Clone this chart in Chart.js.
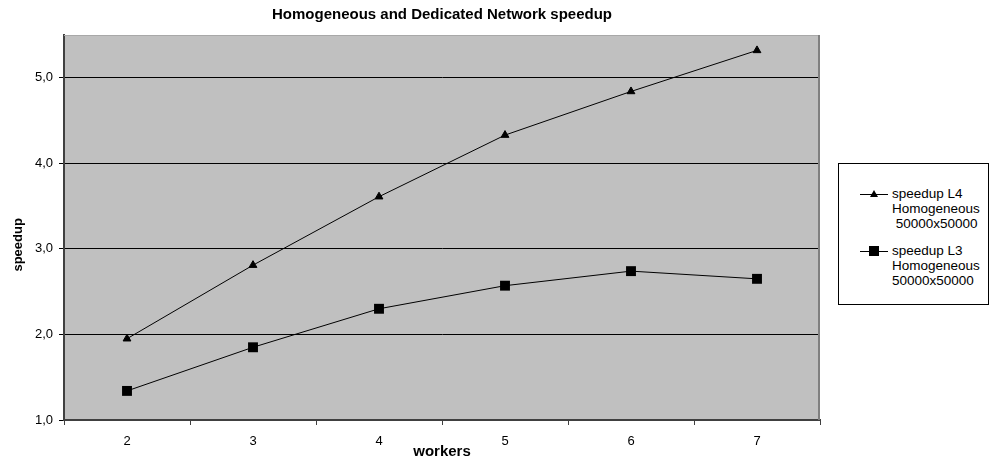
<!DOCTYPE html>
<html>
<head>
<meta charset="utf-8">
<script src="https://cdn.jsdelivr.net/npm/chart.js@4.4.1/dist/chart.umd.min.js"></script>
<style>
  html, body { margin: 0; padding: 0; background: #ffffff; }
  #wrap { position: relative; width: 989px; height: 457px; }
  #chart { position: absolute; left: 0; top: 0; }
  #legend {
    position: absolute; left: 838px; top: 163px; width: 149px; height: 140px;
    border: 1px solid #000; background: #fff; box-sizing: content-box;
    font-family: "Liberation Sans", Arial, sans-serif; font-size: 13.5px; color: #000;
  }
  .item { position: absolute; left: 0; width: 149px; }
  .item .sym { position: absolute; left: 21px; width: 28px; height: 12px; }
  .item .sym .ln { position: absolute; left: 0; right: 0; top: 6px; height: 1px; background: #000; }
  .item .txt { position: absolute; left: 53px; line-height: 15px; white-space: nowrap; }
  .tri { position: absolute; left: 10px; top: 2px; width: 0; height: 0;
         border-left: 4px solid transparent; border-right: 4px solid transparent; border-bottom: 7px solid #000; }
  .sq { position: absolute; left: 9px; top: 1px; width: 10px; height: 10px; background: #000; }
</style>
</head>
<body>
<div id="wrap">
  <canvas id="chart" width="989" height="457"></canvas>
  <div id="legend"></div>
</div>
<script>
// Workers on the x axis
const workers = ['2', '3', '4', '5', '6', '7'];
// Speedup, L4 homogeneous run
const speedupL4 = [1.95, 2.81, 3.61, 4.33, 4.84, 5.32];
// Speedup, L3 homogeneous run
const speedupL3 = [1.34, 1.85, 2.30, 2.57, 2.74, 2.65];
// Value axis
const yTicks = [1, 2, 3, 4, 5];
const yMin = 1, yMax = 5.5;
const yTitle = 'speedup';

const seriesNames = [
  ['speedup L4', 'Homogeneous', '\u00a050000x50000'],
  ['speedup L3', 'Homogeneous', '50000x50000']
];

const FONT = '"Liberation Sans", Arial, sans-serif';

// Grey plot area with its frame, plus the value-axis caption
const plotFrame = {
  id: 'plotFrame',
  beforeDraw(chart) {
    const a = chart.chartArea, ctx = chart.ctx;
    ctx.save();
    ctx.fillStyle = '#c0c0c0';
    ctx.fillRect(a.left, a.top, a.right - a.left, a.bottom - a.top);
    ctx.restore();
  },
  afterDatasetsDraw(chart) {
    const a = chart.chartArea, ctx = chart.ctx;
    ctx.save();
    ctx.lineWidth = 1;
    ctx.strokeStyle = '#a8a8a8';
    ctx.beginPath();
    ctx.moveTo(a.left, a.top + 0.5); ctx.lineTo(a.right, a.top + 0.5);
    ctx.stroke();
    ctx.lineWidth = 2;
    ctx.strokeStyle = '#808080';
    ctx.beginPath();
    ctx.moveTo(a.right - 1, a.top); ctx.lineTo(a.right - 1, a.bottom);
    ctx.stroke();
    ctx.restore();
  },
  afterDraw(chart) {
    const ctx = chart.ctx;
    const a = chart.chartArea;
    ctx.save();
    ctx.translate(18.5, a.top + (a.bottom - a.top) * 0.545);
    ctx.rotate(-Math.PI / 2);
    ctx.font = 'bold 13px ' + FONT;
    ctx.fillStyle = '#000';
    ctx.textAlign = 'center';
    ctx.textBaseline = 'middle';
    ctx.fillText(yTitle, 0, 0);
    ctx.restore();
  }
};

new Chart(document.getElementById('chart'), {
  type: 'line',
  data: {
    labels: workers,
    datasets: [
      {
        label: seriesNames[0].join(' '),
        data: speedupL4,
        borderColor: '#000', backgroundColor: '#000', borderWidth: 1,
        pointStyle: 'triangle', pointRadius: 4.5, pointBorderWidth: 1,
        tension: 0
      },
      {
        label: seriesNames[1].join(' '),
        data: speedupL3,
        borderColor: '#000', backgroundColor: '#000', borderWidth: 1,
        pointStyle: 'rect', pointRadius: 7, pointBorderWidth: 0,
        tension: 0
      }
    ]
  },
  options: {
    responsive: false,
    animation: false,
    devicePixelRatio: 1,
    layout: { padding: { top: 0, right: 169, bottom: 0, left: 0 } },
    plugins: {
      legend: { display: false },
      tooltip: { enabled: false },
      title: {
        display: true,
        text: 'Homogeneous and Dedicated Network speedup',
        color: '#000',
        fullSize: false,
        font: { family: FONT, size: 15, weight: 'bold' },
        padding: { top: 6, bottom: 11 }
      }
    },
    scales: {
      x: {
        type: 'category',
        offset: true,
        grid: { offset: true, drawOnChartArea: false, drawTicks: true, tickLength: 5, color: '#404040', lineWidth: 1 },
        border: { color: '#404040', width: 2 },
        ticks: { color: '#000', font: { family: FONT, size: 13 }, padding: 9, maxRotation: 0 },
        title: { display: true, text: 'workers', color: '#000', font: { family: FONT, size: 15, weight: 'bold' }, padding: { top: 0, bottom: -4 } },
        afterFit(scale) { scale.height = 37; }
      },
      y: {
        min: yMin, max: yMax,
        afterBuildTicks(scale) { scale.ticks = yTicks.map(v => ({ value: v })); },
        grid: { color: '#000', lineWidth: 1, drawTicks: true, tickLength: 5 },
        border: { color: '#404040', width: 2 },
        ticks: {
          color: '#000', font: { family: FONT, size: 13 }, padding: 6,
          callback: v => v.toFixed(1).replace('.', ',')
        },
        title: { display: false },
        afterFit(scale) { scale.width = 64; }
      }
    }
  },
  plugins: [plotFrame]
});

// Legend box beside the plot
const legend = document.getElementById('legend');
const tops = [24, 81];
const syms = ['tri', 'sq'];
seriesNames.forEach((lines, i) => {
  const item = document.createElement('div');
  item.className = 'item';
  item.style.top = tops[i] + 'px';
  const sym = document.createElement('div');
  sym.className = 'sym';
  sym.innerHTML = '<div class="ln"></div><div class="' + syms[i] + '"></div>';
  const txt = document.createElement('div');
  txt.className = 'txt';
  txt.style.top = '-2px';
  txt.innerHTML = lines.join('<br>');
  item.appendChild(sym);
  item.appendChild(txt);
  legend.appendChild(item);
});
</script>
</body>
</html>
